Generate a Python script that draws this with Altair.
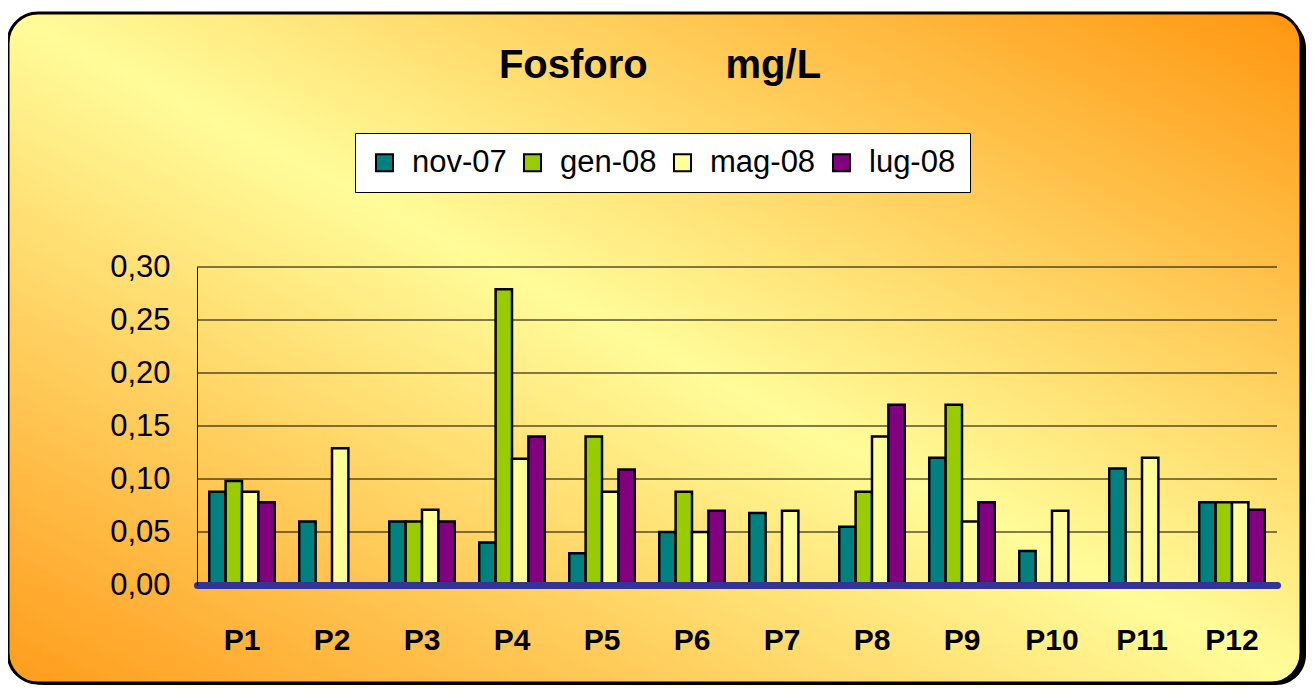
import altair as alt
import pandas as pd

# ---- data ----
points = ["P1", "P2", "P3", "P4", "P5", "P6", "P7", "P8", "P9", "P10", "P11", "P12"]
series = ["nov-07", "gen-08", "mag-08", "lug-08"]
nov_07 = [0.088, 0.060, 0.060, 0.040, 0.030, 0.050, 0.068, 0.055, 0.120, 0.032, 0.110, 0.078]
gen_08 = [0.098, None, 0.060, 0.279, 0.140, 0.088, None, 0.088, 0.170, None, None, 0.078]
mag_08 = [0.088, 0.129, 0.071, 0.119, 0.088, 0.050, 0.070, 0.140, 0.060, 0.070, 0.120, 0.078]
lug_08 = [0.078, None, 0.060, 0.140, 0.109, 0.070, None, 0.170, 0.078, None, None, 0.071]
colors = ["#008080", "#99CC00", "#FFFF99", "#800080"]
y_ticks = [0.0, 0.05, 0.10, 0.15, 0.20, 0.25, 0.30]
title_text = "Fosforo" + "\u00a0" * 7 + "mg/L"

rows = []
for s, vals in zip(series, [nov_07, gen_08, mag_08, lug_08]):
    for p, v in zip(points, vals):
        rows.append({"punto": p, "serie": s, "valore": v})
df = pd.DataFrame(rows)

W, H = 1080, 318
FONT = "Liberation Sans"

y_scale = alt.Scale(domain=[0, 0.30], nice=False, zero=True)
y_axis = alt.Axis(
    values=y_ticks, grid=False, ticks=False, domain=True, domainColor="black",
    domainWidth=1, labelFont=FONT, labelFontSize=31, labelColor="black",
    labelPadding=27, title=None, zindex=1,
    labelExpr="replace(format(datum.value, '.2f'), '.', ',')",
)

# decorative frame (shadow + gradient panel)
frame_df = pd.DataFrame({"k": [0]})
shadow = alt.Chart(frame_df).mark_rect(fill="black", cornerRadius=30).encode(
    x=alt.value(-183), x2=alt.value(1109), y=alt.value(-249), y2=alt.value(418)
)
panel = alt.Chart(frame_df).mark_rect(
    cornerRadius=30, stroke="black", strokeWidth=3,
    fill=alt.LinearGradient(
        gradient="linear",
        stops=[
            alt.GradientStop(color="#FF9C1C", offset=0),
            alt.GradientStop(color="#FFFC99", offset=0.5),
            alt.GradientStop(color="#FF9610", offset=1),
        ],
        x1=0, y1=1, x2=1, y2=0,
    ),
).encode(x=alt.value(-189), x2=alt.value(1104), y=alt.value(-254), y2=alt.value(416))

grid_df = pd.DataFrame({"v": y_ticks[1:]})
grid = alt.Chart(grid_df).mark_rule(color="black", strokeWidth=1).encode(
    y=alt.Y("v:Q", scale=y_scale, axis=y_axis)
)

bars = alt.Chart(df).mark_bar(stroke="black", strokeWidth=2.5).encode(
    x=alt.X(
        "punto:N", sort=points,
        scale=alt.Scale(paddingInner=0.272, paddingOuter=0.136),
        axis=alt.Axis(
            title=None, ticks=False, labelAngle=0, labelFont=FONT,
            labelFontSize=30, labelFontWeight="bold", labelColor="black",
            labelPadding=40, domainColor="#333399", domainWidth=7,
            domainCap="round", zindex=1,
        ),
    ),
    xOffset=alt.XOffset("serie:N", sort=series, scale=alt.Scale(paddingInner=0, paddingOuter=0)),
    y=alt.Y("valore:Q", scale=y_scale, axis=y_axis),
    color=alt.Color(
        "serie:N", sort=series,
        scale=alt.Scale(domain=series, range=colors),
        legend=alt.Legend(
            title=None, orient="none", legendX=158, legendY=-134,
            direction="horizontal", columns=4, fillColor="white",
            strokeColor="black", padding=14, symbolType="square",
            symbolSize=290, symbolStrokeColor="black", symbolStrokeWidth=2,
            labelFont=FONT, labelFontSize=31, labelColor="black",
            labelOffset=12, columnPadding=10, zindex=1,
        ),
    ),
)

title_df = pd.DataFrame({"t": [title_text]})
title = alt.Chart(title_df).mark_text(
    font=FONT, fontSize=40, fontWeight="bold", color="black",
    align="center", baseline="alphabetic",
).encode(text="t:N", x=alt.value(463), y=alt.value(-189))

chart = alt.layer(shadow, panel, grid, bars, title).properties(
    width=W, height=H,
    autosize=alt.AutoSizeParams(type="none"),
    padding={"left": 189, "top": 259, "right": 29, "bottom": 100},
).configure_view(stroke=None).configure(background="white")

chart.save("out.html", embed_options={"renderer": "svg", "actions": False})
